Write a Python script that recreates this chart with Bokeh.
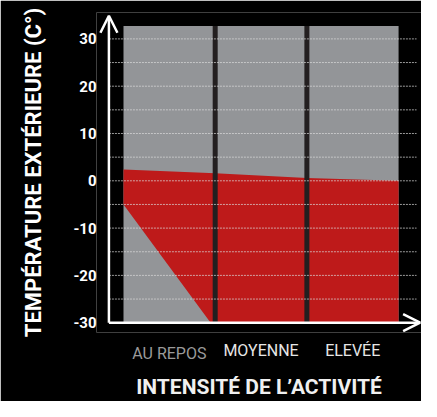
from bokeh.plotting import figure
from bokeh.models import Range1d, FixedTicker, Arrow, OpenHead, LinearAxis
from bokeh.embed import file_html
from bokeh.resources import INLINE

# ---- data ----
categories = ["AU REPOS", "MOYENNE", "ELEVÉE"]
category_centers = [0.5, 1.5, 2.5]
category_colors = ["#9a9a9a", "#e6e6e6", "#e6e6e6"]
boundaries = [0, 1, 2, 3]                 # column edges (activity intensity)
upper_limit = [2.4, 1.6, 0.6, 0.0]        # upper edge of red zone (°C) at each column edge
diag_x = [0.95, 0.0]                      # lower-left edge of red zone
diag_y = [-30, -5]
separators = [1, 2]
temp_min = -30
temp_max = 32.7
y_ticks = [-30, -20, -10, 0, 10, 20, 30]
y_tick_labels = ["-30", "-20", "-10", "0", "10", "20", "30"]
grid_ticks = [-25, -20, -15, -10, -5, 0, 5, 10, 15, 20, 25, 30]

FONT = "Roboto"
axis_x = -0.159      # where the vertical axis arrow stands
grid_end = 3.196     # right end of the grid lines
y_arrow_tip = 34.88
x_arrow_tip = 3.235

p = figure(width=421, height=401, output_backend="svg", toolbar_location=None,
           x_range=Range1d(-0.2944, 3.250), y_range=Range1d(-32.07, 35.58),
           min_border_left=96, min_border_right=0, min_border_top=12, min_border_bottom=62,
           background_fill_color="black", border_fill_color="black", outline_line_color=None)

# gray zone
p.quad(left=[boundaries[0]], right=[boundaries[-1]], bottom=[temp_min], top=[temp_max],
       fill_color="#939598", line_color=None)

# red zone
red_x = boundaries + [boundaries[-1]] + diag_x
red_y = upper_limit + [temp_min] + diag_y
p.patch(red_x, red_y, fill_color="#be1a1a", line_color=None)

# column separators
p.segment(x0=separators, y0=[temp_min] * len(separators), x1=separators,
          y1=[temp_max] * len(separators), line_color="#231f20", line_width=5)

# grid lines (from the axis to the right end)
p.xgrid.visible = False
p.ygrid.visible = False
p.segment(x0=[axis_x] * len(grid_ticks), y0=grid_ticks, x1=[grid_end] * len(grid_ticks),
          y1=grid_ticks, line_color="#dcdcdc", line_alpha=0.7, line_width=1, line_dash="2 1")

# y axis
ya = p.yaxis[0]
ya.ticker = FixedTicker(ticks=y_ticks)
ya.major_label_overrides = {t: s for t, s in zip(y_ticks, y_tick_labels)}
ya.axis_line_color = None
ya.major_tick_line_color = None
ya.minor_tick_line_color = None
ya.major_tick_out = 0
ya.major_tick_in = 0
ya.major_label_standoff = 0
ya.major_label_text_color = "white"
ya.major_label_text_font = FONT
ya.major_label_text_font_style = "bold"
ya.major_label_text_font_size = "15px"
ya.axis_label = "TEMPÉRATURE EXTÉRIEURE (C°)"
ya.axis_label_text_color = "white"
ya.axis_label_text_font = FONT
ya.axis_label_text_font_style = "bold"
ya.axis_label_text_font_size = "22px"
ya.axis_label_standoff = 24


def style_x(ax, ticks, labels, color, standoff):
    ax.ticker = FixedTicker(ticks=ticks)
    ax.major_label_overrides = {c: n for c, n in zip(ticks, labels)}
    ax.axis_line_color = None
    ax.major_tick_line_color = None
    ax.minor_tick_line_color = None
    ax.major_tick_out = 0
    ax.major_tick_in = 0
    ax.major_label_standoff = standoff
    ax.major_label_text_color = color
    ax.major_label_text_font = FONT
    ax.major_label_text_font_size = "16px"


# x axis: MOYENNE / ELEVÉE (white)
style_x(p.xaxis[0], category_centers[1:], categories[1:], category_colors[1], 8)
# x axis: AU REPOS (gray), pulled up onto the same line
xa2 = LinearAxis()
style_x(xa2, category_centers[:1], categories[:1], category_colors[0], -19)
xa2.axis_label = "INTENSITÉ DE L’ACTIVITÉ"
xa2.axis_label_text_color = "#f0f0f0"
xa2.axis_label_text_font = FONT
xa2.axis_label_text_font_style = "bold"
xa2.axis_label_text_font_size = "21px"
xa2.axis_label_standoff = 9
p.add_layout(xa2, "below")

# axis arrows
p.add_layout(Arrow(x_start=axis_x, y_start=temp_min, x_end=axis_x, y_end=y_arrow_tip,
                   line_color="white", line_width=2.5,
                   end=OpenHead(size=17, line_color="white", line_width=2.5)))
p.add_layout(Arrow(x_start=axis_x, y_start=temp_min, x_end=x_arrow_tip, y_end=temp_min,
                   line_color="white", line_width=2.5,
                   end=OpenHead(size=17, line_color="white", line_width=2.5)))

open("out.html", "w").write(file_html(p, INLINE))
